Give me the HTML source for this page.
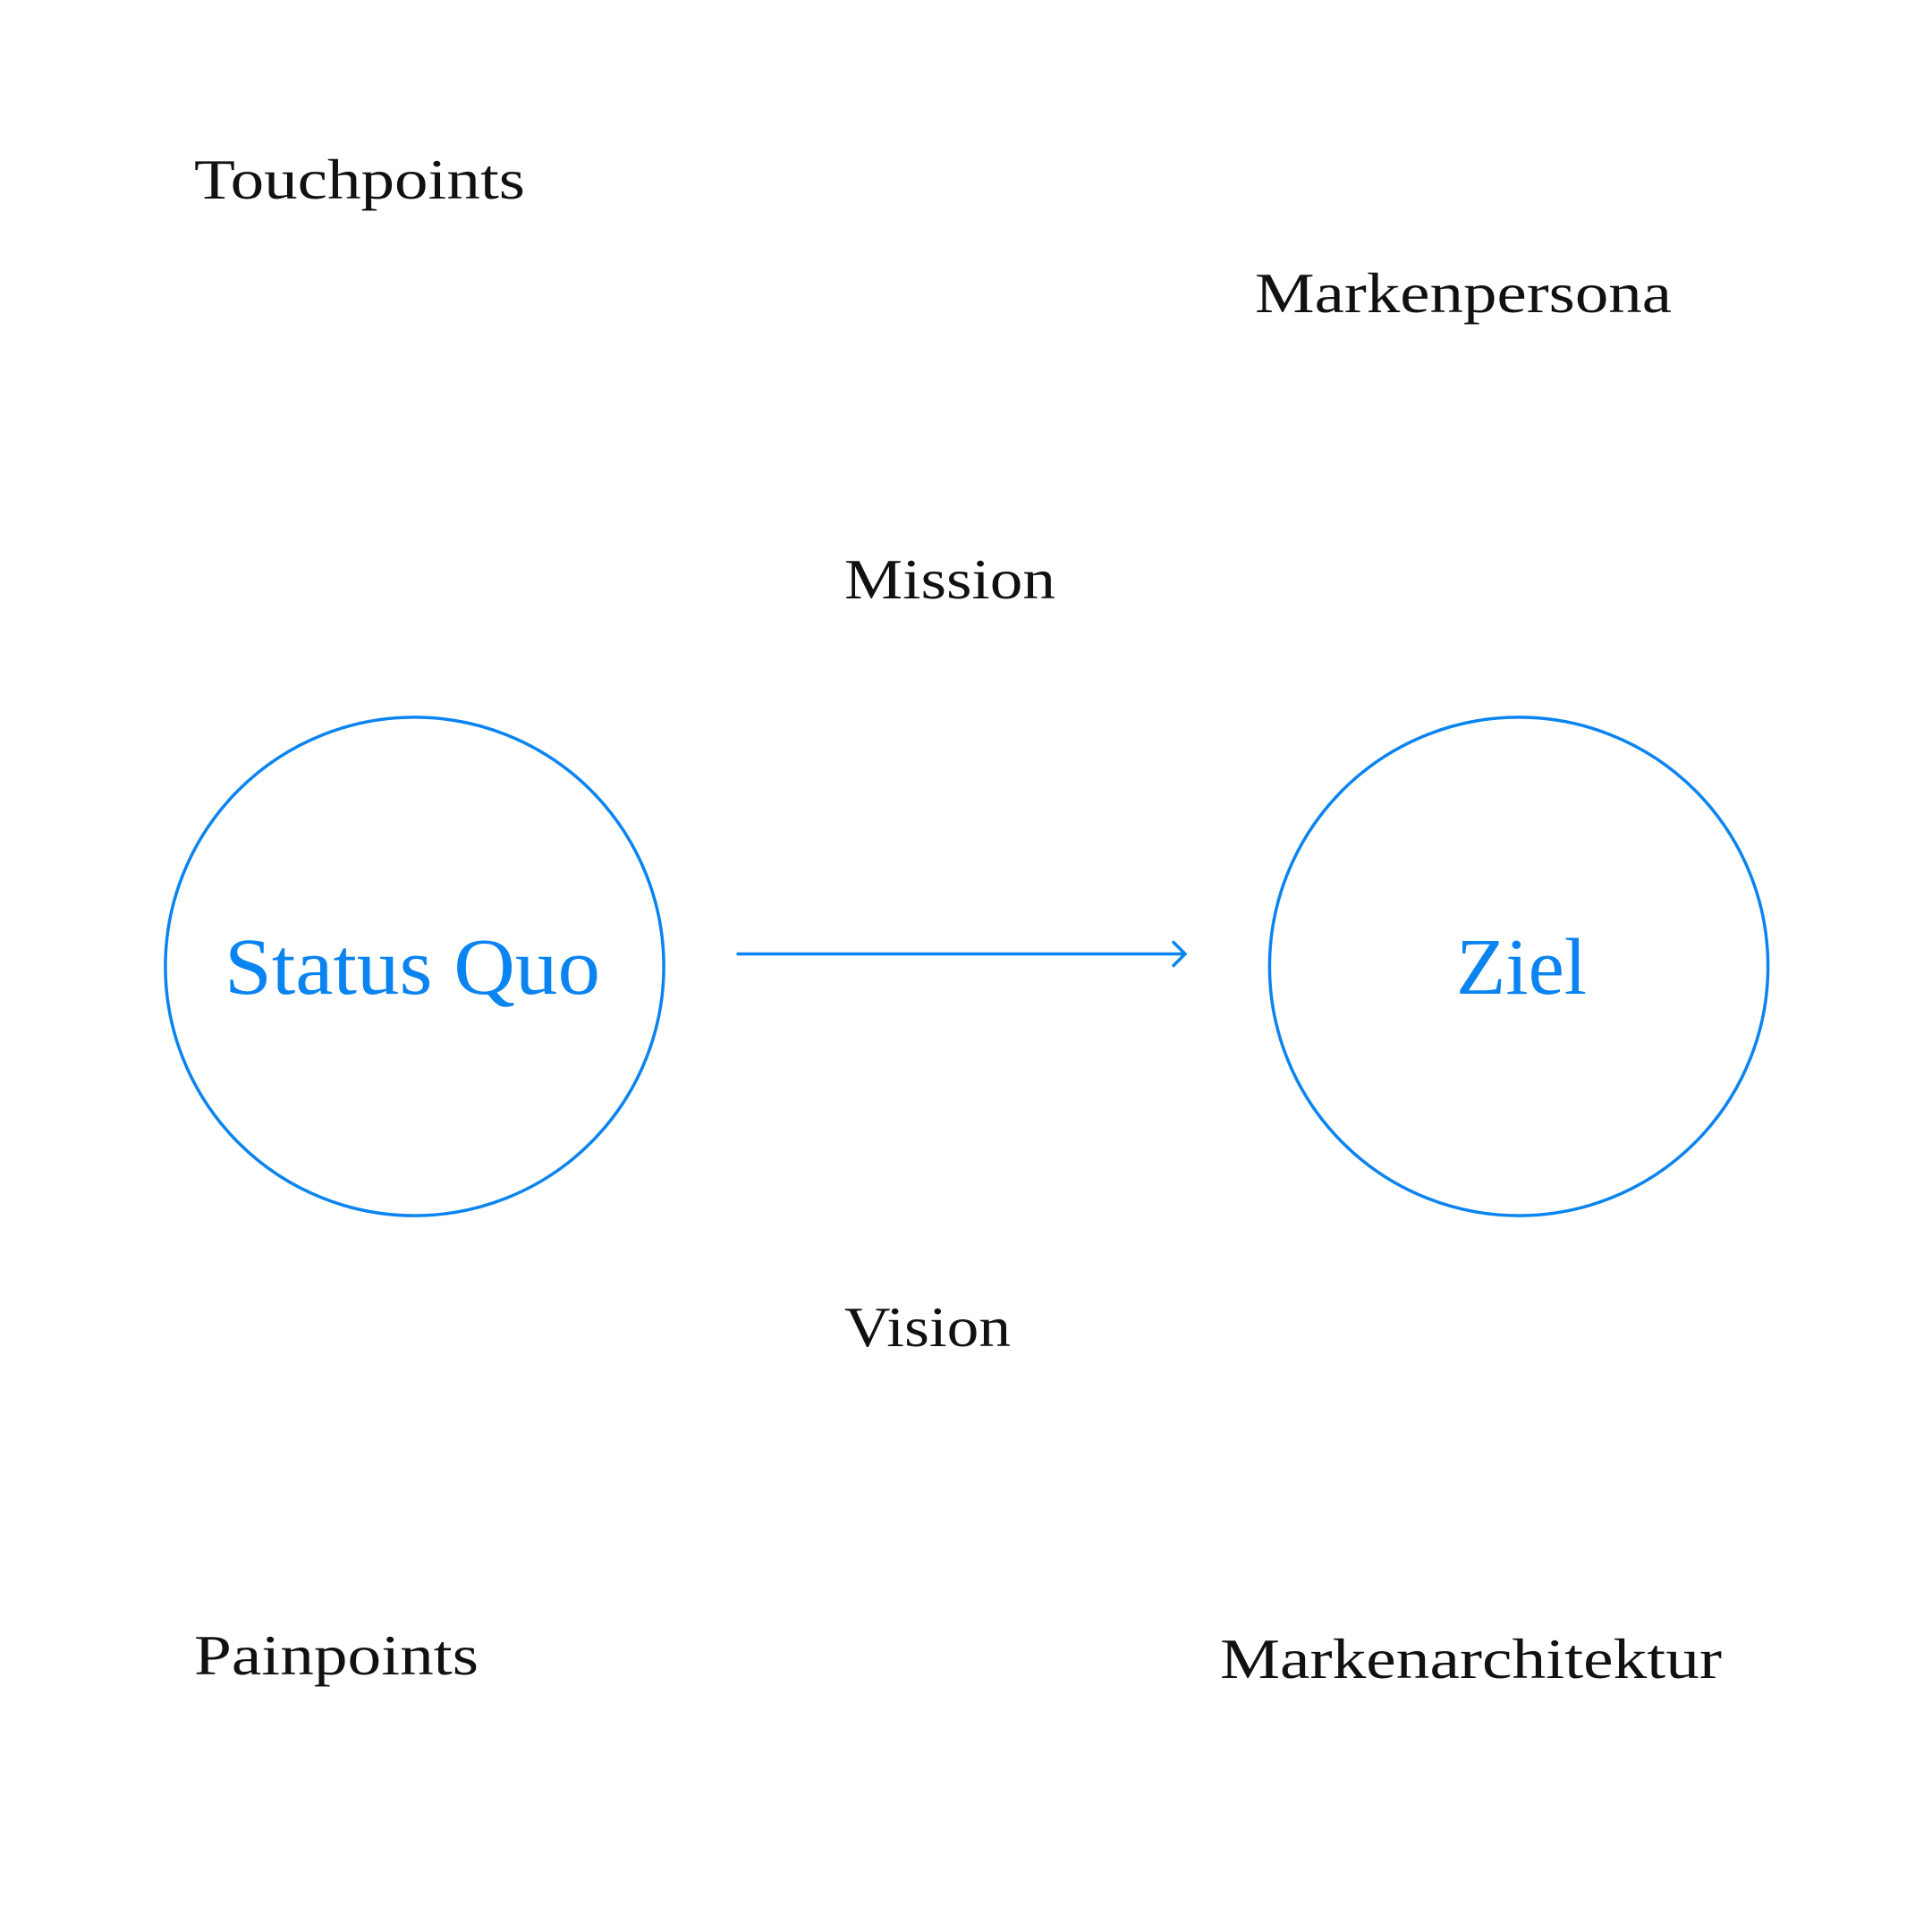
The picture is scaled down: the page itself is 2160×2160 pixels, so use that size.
<!DOCTYPE html>
<html><head><meta charset="utf-8"><style>html,body{margin:0;padding:0;background:#fff}svg{display:block}</style></head>
<body>
<svg width="2160" height="2160" viewBox="0 0 2160 2160" xmlns="http://www.w3.org/2000/svg">
<g font-family="'Liberation Serif', serif" fill="#111" font-size="64">
<text x="217" y="222" textLength="370" lengthAdjust="spacingAndGlyphs">Touchpoints</text>
<text x="1403" y="349" textLength="466" lengthAdjust="spacingAndGlyphs">Markenpersona</text>
<text x="944" y="669" textLength="236" lengthAdjust="spacingAndGlyphs">Mission</text>
<text x="944" y="1505" textLength="186" lengthAdjust="spacingAndGlyphs">Vision</text>
<text x="217" y="1872" textLength="318" lengthAdjust="spacingAndGlyphs">Painpoints</text>
<text x="1364" y="1876" textLength="561" lengthAdjust="spacingAndGlyphs">Markenarchitektur</text>
</g>
<g fill="none" stroke="#0a84f0" stroke-width="3.5">
<circle cx="463.5" cy="1080.5" r="278.6"/>
<circle cx="1698" cy="1080.5" r="278.6"/>
<line x1="825" y1="1066.5" x2="1325" y2="1066.5" stroke-linecap="round"/>
<polyline points="1312,1053.5 1325,1066.5 1312,1079.5" stroke-linecap="round" stroke-linejoin="round"/>
</g>
<g font-family="'Liberation Serif', serif" fill="#0a84f0" font-size="90">
<text x="251" y="1111" textLength="420" lengthAdjust="spacingAndGlyphs">Status Quo</text>
<text x="1628" y="1111" textLength="146" lengthAdjust="spacingAndGlyphs">Ziel</text>
</g>
</svg>
</body></html>
